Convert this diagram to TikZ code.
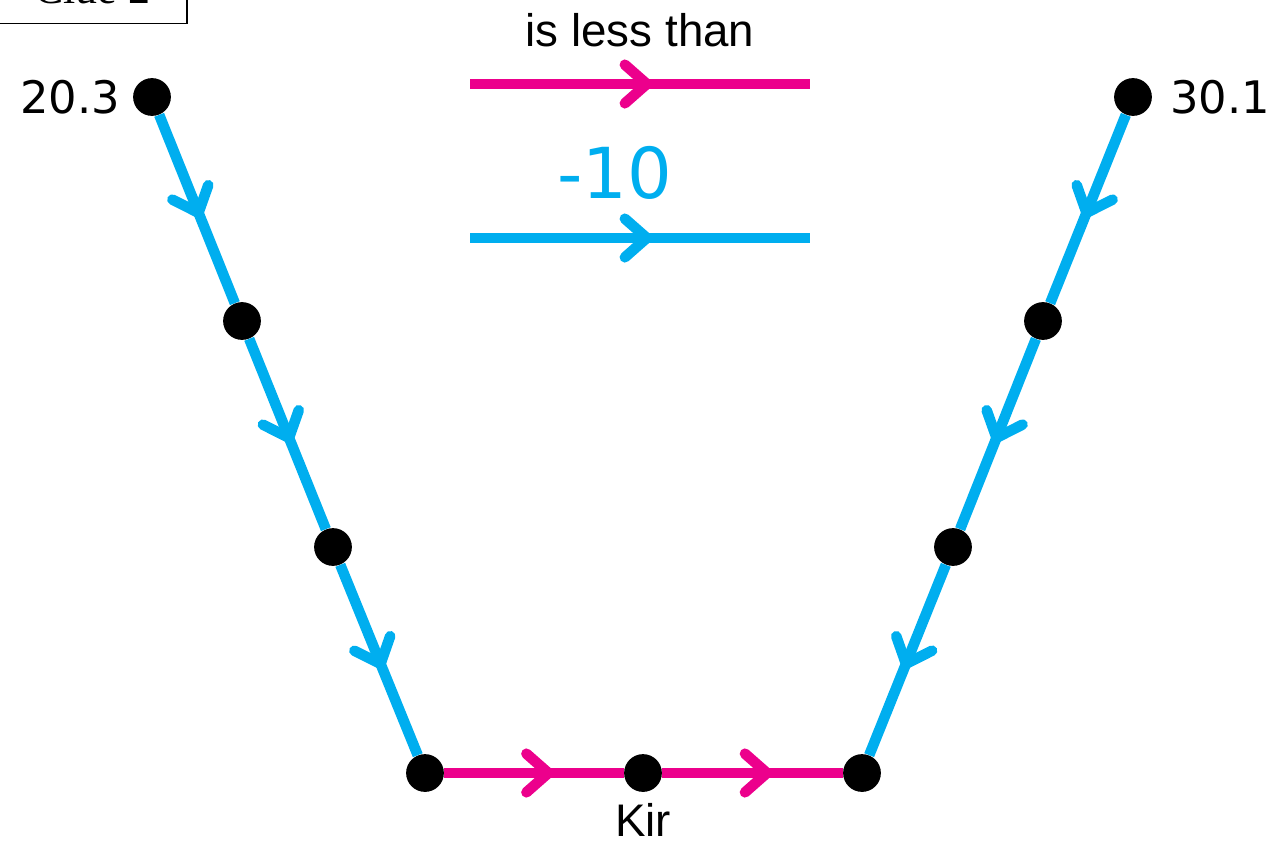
\documentclass[tikz,border=0pt]{standalone}
\usepackage{fontspec}
\setmainfont{Liberation Sans}
\newfontfamily\numfont{DejaVu Sans}
\newfontfamily\cluefont{Liberation Serif}
\usetikzlibrary{positioning,decorations.markings}
\definecolor{skyblue}{RGB}{0,174,239}
\definecolor{hotpink}{RGB}{236,0,140}
\tikzset{
  dot/.style={circle,fill=black,inner sep=0pt,minimum size=21.5pt},
  chev/.style 2 args={decoration={markings,mark=at position #1 with
    {\draw[#2,line width=6pt,line cap=round,line join=round] (-12.5pt,11pt) -- (0,0) -- (-12.5pt,-11pt);}},
    postaction={decorate}},
  blueseg/.style={skyblue,line width=6pt,chev={#1}{skyblue}},
  pinkseg/.style={hotpink,line width=6pt,chev={#1}{hotpink}},
  numlbl/.style={font=\numfont\fontsize{25.5}{30}\selectfont,inner sep=0pt},
  txtlbl/.style={font=\fontsize{26}{31}\selectfont,inner sep=0pt}
}
\begin{document}
\begin{tikzpicture}[x=0.02cm,y=-0.02cm]
\useasboundingbox (0,0) rectangle (1272,843);
\path node (clue) [draw,thick,anchor=south,minimum width=108pt,inner sep=0pt,text depth=11.3pt,font=\cluefont\fontsize{25}{30}\selectfont] at (92,24) {Clue 2}
node (l0) [dot] at (152,97) {}
node (l1) [dot] at (242,321) {}
node (l2) [dot] at (333,547) {}
node (b0) [dot] at (425,773) {}
node (b1) [dot] at (643,773) {}
node (b2) [dot] at (862,773) {}
node (r2) [dot] at (953,547) {}
node (r1) [dot] at (1043,321) {}
node (r0) [dot] at (1133,97) {}
;
\node (lval) [numlbl,left=7pt of l0] {20.3};
\node (rval) [numlbl,right=10pt of r0] {30.1};
\node (kir) [txtlbl,below=6pt of b1] {Kir};
% legend
\coordinate (pa) at (470,84);
\coordinate (pb) at (810,84);
\coordinate (ba) at (470,238);
\coordinate (bb) at (810,238);
\node (less) [txtlbl] at (640,30) {is less than};
\node (ten) [font=\numfont\fontsize{40}{46}\selectfont,text=skyblue,inner sep=0pt] at (615,173) {-10};
\draw[pinkseg=0.52] (pa) -- (pb);
\draw[blueseg=0.52] (ba) -- (bb);
% path
\draw[blueseg=0.52] (l0) -- (l1);
\draw[blueseg=0.52] (l1) -- (l2);
\draw[blueseg=0.52] (l2) -- (b0);
\draw[pinkseg=0.58] (b0) -- (b1);
\draw[pinkseg=0.58] (b1) -- (b2);
\draw[blueseg=0.52] (r0) -- (r1);
\draw[blueseg=0.52] (r1) -- (r2);
\draw[blueseg=0.52] (r2) -- (b2);
\end{tikzpicture}
\end{document}
